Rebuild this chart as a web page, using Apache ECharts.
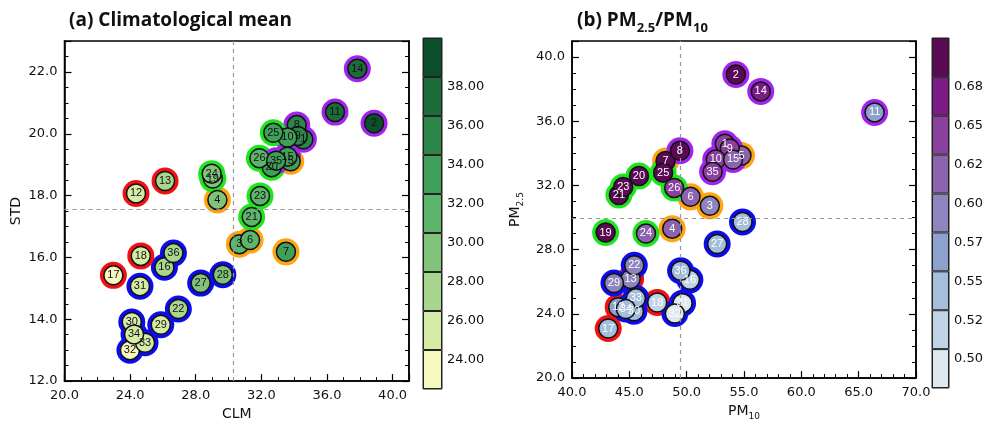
<!DOCTYPE html>
<html>
<head>
<meta charset="utf-8">
<script src="https://cdn.jsdelivr.net/npm/echarts@6/dist/echarts.min.js"></script>
<style>
  html, body { margin: 0; padding: 0; background: #fff; }
  #chart { width: 988px; height: 426px; }
</style>
</head>
<body>
<div id="chart"></div>
<script>
// station numbers 1..36 and the region each belongs to (ring colour)
const ids = [1, 2, 3, 4, 5, 6, 7, 8, 9, 10, 11, 12, 13, 14, 15, 16, 17, 18,
  19, 20, 21, 22, 23, 24, 25, 26, 27, 28, 29, 30, 31, 32, 33, 34, 35, 36];
const group = ['p', 'p', 'o', 'o', 'o', 'o', 'o', 'p', 'p', 'p', 'p', 'r', 'r', 'p', 'p', 'b', 'r', 'r',
  'g', 'g', 'g', 'b', 'g', 'g', 'g', 'g', 'b', 'b', 'b', 'b', 'b', 'b', 'b', 'b', 'p', 'b'];

// (a) climatological mean vs std
const clm = [34.56, 38.87, 30.66, 29.32, 33.79, 31.31, 33.5, 34.16, 34.22, 33.59, 36.49, 24.36, 26.13, 37.85, 33.59, 26.09, 22.98, 24.65,
  29.04, 32.63, 31.41, 26.94, 31.92, 28.97, 32.73, 31.88, 28.3, 29.65, 25.87, 24.1, 24.6, 23.99, 24.91, 24.24, 32.9, 26.64];
const std = [19.82, 20.34, 16.43, 17.86, 19.11, 16.56, 16.18, 20.28, 19.93, 19.88, 20.7, 18.07, 18.47, 22.1, 19.26, 15.68, 15.42, 16.05,
  18.55, 18.92, 17.31, 14.33, 17.99, 18.71, 20.03, 19.21, 15.17, 15.44, 13.82, 13.91, 15.07, 13.0, 13.24, 13.51, 19.13, 16.14];

// (b) PM10 vs PM2.5, fill = PM2.5/PM10
const pm10 = [53.33, 54.29, 52.02, 48.74, 54.78, 50.34, 48.16, 49.41, 53.76, 52.54, 66.39, 44.03, 45.11, 56.46, 54.05, 50.28, 43.16, 47.43,
  42.93, 45.84, 44.09, 45.43, 44.47, 46.45, 47.95, 48.91, 52.66, 54.87, 43.66, 45.4, 49.64, 48.97, 45.57, 44.7, 52.26, 49.47];
const pm25 = [34.6, 38.91, 30.73, 29.31, 33.86, 31.29, 33.52, 34.16, 34.3, 33.62, 36.55, 24.42, 26.18, 37.86, 33.62, 26.12, 23.09, 24.71,
  29.07, 32.59, 31.41, 27.03, 31.9, 29.01, 32.79, 31.84, 28.35, 29.72, 25.92, 24.16, 24.67, 24.02, 24.97, 24.3, 32.85, 26.69];
const ratio = [0.645, 0.717, 0.591, 0.601, 0.618, 0.622, 0.696, 0.691, 0.638, 0.64, 0.551, 0.555, 0.58, 0.671, 0.622, 0.52, 0.535, 0.521,
  0.677, 0.711, 0.712, 0.595, 0.717, 0.62, 0.684, 0.645, 0.538, 0.542, 0.594, 0.532, 0.497, 0.49, 0.548, 0.544, 0.629, 0.54];

// reference (dashed) lines
const refL = { x: 30.3, y: 17.57 };
const refR = { x: 49.4, y: 29.95 };

// colour bar boundaries and their labels
const boundsL = [24, 26, 28, 30, 32, 34, 36, 38];
const tickLabelsL = ['24.00', '26.00', '28.00', '30.00', '32.00', '34.00', '36.00', '38.00'];
const boundsR = [0.5, 0.525, 0.55, 0.575, 0.6, 0.625, 0.65, 0.675];
const tickLabelsR = ['0.50', '0.52', '0.55', '0.57', '0.60', '0.62', '0.65', '0.68'];

const colorsL = ['#f6f8bf', '#d5eca6', '#a9d68f', '#82c37c', '#5db46b', '#40a05a', '#2c8649', '#1b6b3b', '#0c4f2c'];
const colorsR = ['#dde8f1', '#c1d4e7', '#a3bfdc', '#8ca2cc', '#8c85be', '#8c64ae', '#8a409d', '#7b1c86', '#5a0a55'];
const ringColors = { r: '#f01212', g: '#1ee61e', o: '#ffa412', b: '#0c0cec', p: '#a024ee' };

const FONT = 'DejaVu Sans';

function pieces(bounds, colors) {
  const out = [{ lt: bounds[0], color: colors[0] }];
  for (let i = 1; i < bounds.length; i++) out.push({ gte: bounds[i - 1], lt: bounds[i], color: colors[i] });
  out.push({ gte: bounds[bounds.length - 1], color: colors[colors.length - 1] });
  return out;
}

const chart = echarts.init(document.getElementById('chart'));

const gridL = { left: 64.5, top: 41, width: 344.5, height: 345 };
const gridR = { left: 572, top: 41, width: 344, height: 345 };

function valueAxis(extra) {
  return Object.assign({
    type: 'value',
    axisLine: { show: true, lineStyle: { color: '#000', width: 1.5 } },
    axisTick: { show: true, inside: true, length: 7, lineStyle: { color: '#000', width: 1.2 } },
    minorTick: { show: true, length: 4, lineStyle: { color: '#000', width: 1 } },
    splitLine: { show: false },
    axisLabel: { color: '#111', fontFamily: FONT, fontSize: 13, formatter: v => v.toFixed(1), showMaxLabel: false },
    nameTextStyle: { color: '#111', fontFamily: FONT, fontSize: 14 }
  }, extra);
}

const subRich = {
  m: { fontFamily: FONT, fontSize: 14, color: '#111', lineHeight: 16, verticalAlign: 'top' },
  s: { fontFamily: FONT, fontSize: 9, color: '#111', lineHeight: 10, verticalAlign: 'top', padding: [8, 0, 0, 0] }
};

const ringSeries = (xs, ys, xi, yi) => ({
  type: 'scatter', xAxisIndex: xi, yAxisIndex: yi, symbolSize: 27, z: 2, silent: true,
  data: ids.map((id, i) => ({ value: [xs[i], ys[i]], itemStyle: { color: ringColors[group[i]], opacity: 1 } }))
});

const dashSeries = (ref, xi, yi) => ({
  type: 'scatter', xAxisIndex: xi, yAxisIndex: yi, data: [], z: 1, silent: true,
  markLine: {
    silent: true, symbol: 'none', label: { show: false },
    lineStyle: { color: '#999', type: [4, 4], width: 1.2 },
    data: [{ xAxis: ref.x }, { yAxis: ref.y }]
  }
});

const fillSeries = (data, xi, yi, txtColor) => ({
  type: 'scatter', xAxisIndex: xi, yAxisIndex: yi, symbolSize: 19, z: 3, silent: true,
  itemStyle: { borderColor: '#111', borderWidth: 1.5, opacity: 1 },
  label: {
    show: true, position: 'inside', color: txtColor, fontFamily: 'Liberation Sans', fontSize: 11,
    formatter: p => String(p.value[p.value.length - 1])
  },
  data: data
});

const cbSeries = (colors, xi, yi, stack) => colors.map(c => ({
  type: 'bar', xAxisIndex: xi, yAxisIndex: yi, stack: stack, barWidth: '100%', silent: true,
  itemStyle: { color: c, borderColor: '#222', borderWidth: 1 },
  data: [1]
}));

// colour bar labels sit a little below each boundary, as in the original
const cbAxisY = (grid, labels) => ({
  gridIndex: grid, type: 'value', min: 0, max: 9, interval: 1, position: 'right',
  axisLine: { show: false }, axisTick: { show: false }, splitLine: { show: false },
  axisLabel: {
    margin: 5,
    formatter: v => (labels[v - 1] ? '{t|' + labels[v - 1] + '}' : ''),
    rich: { t: { color: '#111', fontFamily: FONT, fontSize: 13, lineHeight: 15, padding: [20, 0, 0, 0] } }
  }
});

const option = {
  animation: false,
  backgroundColor: '#fff',
  title: [
    {
      text: '(a) Climatological mean', left: 64, top: 6,
      textStyle: { fontFamily: 'Open Sans', fontWeight: 'bold', fontSize: 19, color: '#111' }
    },
    {
      text: '{m|(b) PM}{s|2.5}{m|/PM}{s|10}', left: 572, top: 6,
      textStyle: {
        rich: {
          m: { fontFamily: 'Open Sans', fontWeight: 'bold', fontSize: 19, color: '#111', lineHeight: 24, verticalAlign: 'top' },
          s: { fontFamily: 'Open Sans', fontWeight: 'bold', fontSize: 13, color: '#111', lineHeight: 15, verticalAlign: 'top', padding: [11, 0, 0, 0] }
        }
      }
    }
  ],
  grid: [
    Object.assign({ show: true, borderColor: '#000', borderWidth: 1.5 }, gridL),
    Object.assign({ show: true, borderColor: '#000', borderWidth: 1.5 }, gridR),
    { show: true, left: 423, top: 38, width: 19, height: 351, borderColor: '#222', borderWidth: 1 },
    { show: true, left: 932, top: 38, width: 17, height: 350, borderColor: '#222', borderWidth: 1 }
  ],
  xAxis: [
    valueAxis({ gridIndex: 0, min: 20, max: 41, interval: 4, minorTick: { show: true, splitNumber: 4, length: 4, lineStyle: { color: '#000' } },
      name: 'CLM', nameLocation: 'middle', nameGap: 22 }),
    valueAxis({ gridIndex: 1, min: 40, max: 70, interval: 5, minorTick: { show: true, splitNumber: 5, length: 4, lineStyle: { color: '#000' } },
      axisLabel: { color: '#111', fontFamily: FONT, fontSize: 13, formatter: v => v.toFixed(1) },
      name: '{m|PM}{s|10}', nameLocation: 'middle', nameGap: 22, nameTextStyle: { rich: subRich } }),
    { gridIndex: 2, type: 'category', data: ['c'], show: false },
    { gridIndex: 3, type: 'category', data: ['c'], show: false }
  ],
  yAxis: [
    valueAxis({ gridIndex: 0, min: 12, max: 23, interval: 2, minorTick: { show: true, splitNumber: 4, length: 4, lineStyle: { color: '#000' } },
      name: 'STD', nameLocation: 'middle', nameGap: 41, axisLabel: { color: '#111', fontFamily: FONT, fontSize: 13, margin: 7, formatter: v => v.toFixed(1), showMaxLabel: false } }),
    valueAxis({ gridIndex: 0, min: 12, max: 23, interval: 2, position: 'right', axisLabel: { show: false },
      minorTick: { show: true, splitNumber: 4, length: 4, lineStyle: { color: '#000' } } }),
    valueAxis({ gridIndex: 1, min: 20, max: 41, interval: 4, minorTick: { show: true, splitNumber: 4, length: 4, lineStyle: { color: '#000' } },
      name: '{m|PM}{s|2.5}', nameLocation: 'middle', nameGap: 48, nameTextStyle: { rich: subRich },
      axisLabel: { color: '#111', fontFamily: FONT, fontSize: 13, margin: 7, formatter: v => v.toFixed(1), showMaxLabel: false } }),
    valueAxis({ gridIndex: 1, min: 20, max: 41, interval: 4, position: 'right', axisLabel: { show: false },
      minorTick: { show: true, splitNumber: 4, length: 4, lineStyle: { color: '#000' } } }),
    cbAxisY(2, tickLabelsL),
    cbAxisY(3, tickLabelsR)
  ],
  visualMap: [
    { type: 'piecewise', show: false, seriesIndex: 2, dimension: 0, pieces: pieces(boundsL, colorsL) },
    { type: 'piecewise', show: false, seriesIndex: 5, dimension: 2, pieces: pieces(boundsR, colorsR) }
  ],
  series: [
    dashSeries(refL, 0, 0),
    ringSeries(clm, std, 0, 0),
    fillSeries(ids.map((id, i) => [clm[i], std[i], id]), 0, 0, '#111'),
    dashSeries(refR, 1, 2),
    ringSeries(pm10, pm25, 1, 2),
    fillSeries(ids.map((id, i) => [pm10[i], pm25[i], ratio[i], id]), 1, 2, '#fff')
  ].concat(cbSeries(colorsL, 2, 4, 'cbl'), cbSeries(colorsR, 3, 5, 'cbr'))
};

chart.setOption(option);
</script>
</body>
</html>
